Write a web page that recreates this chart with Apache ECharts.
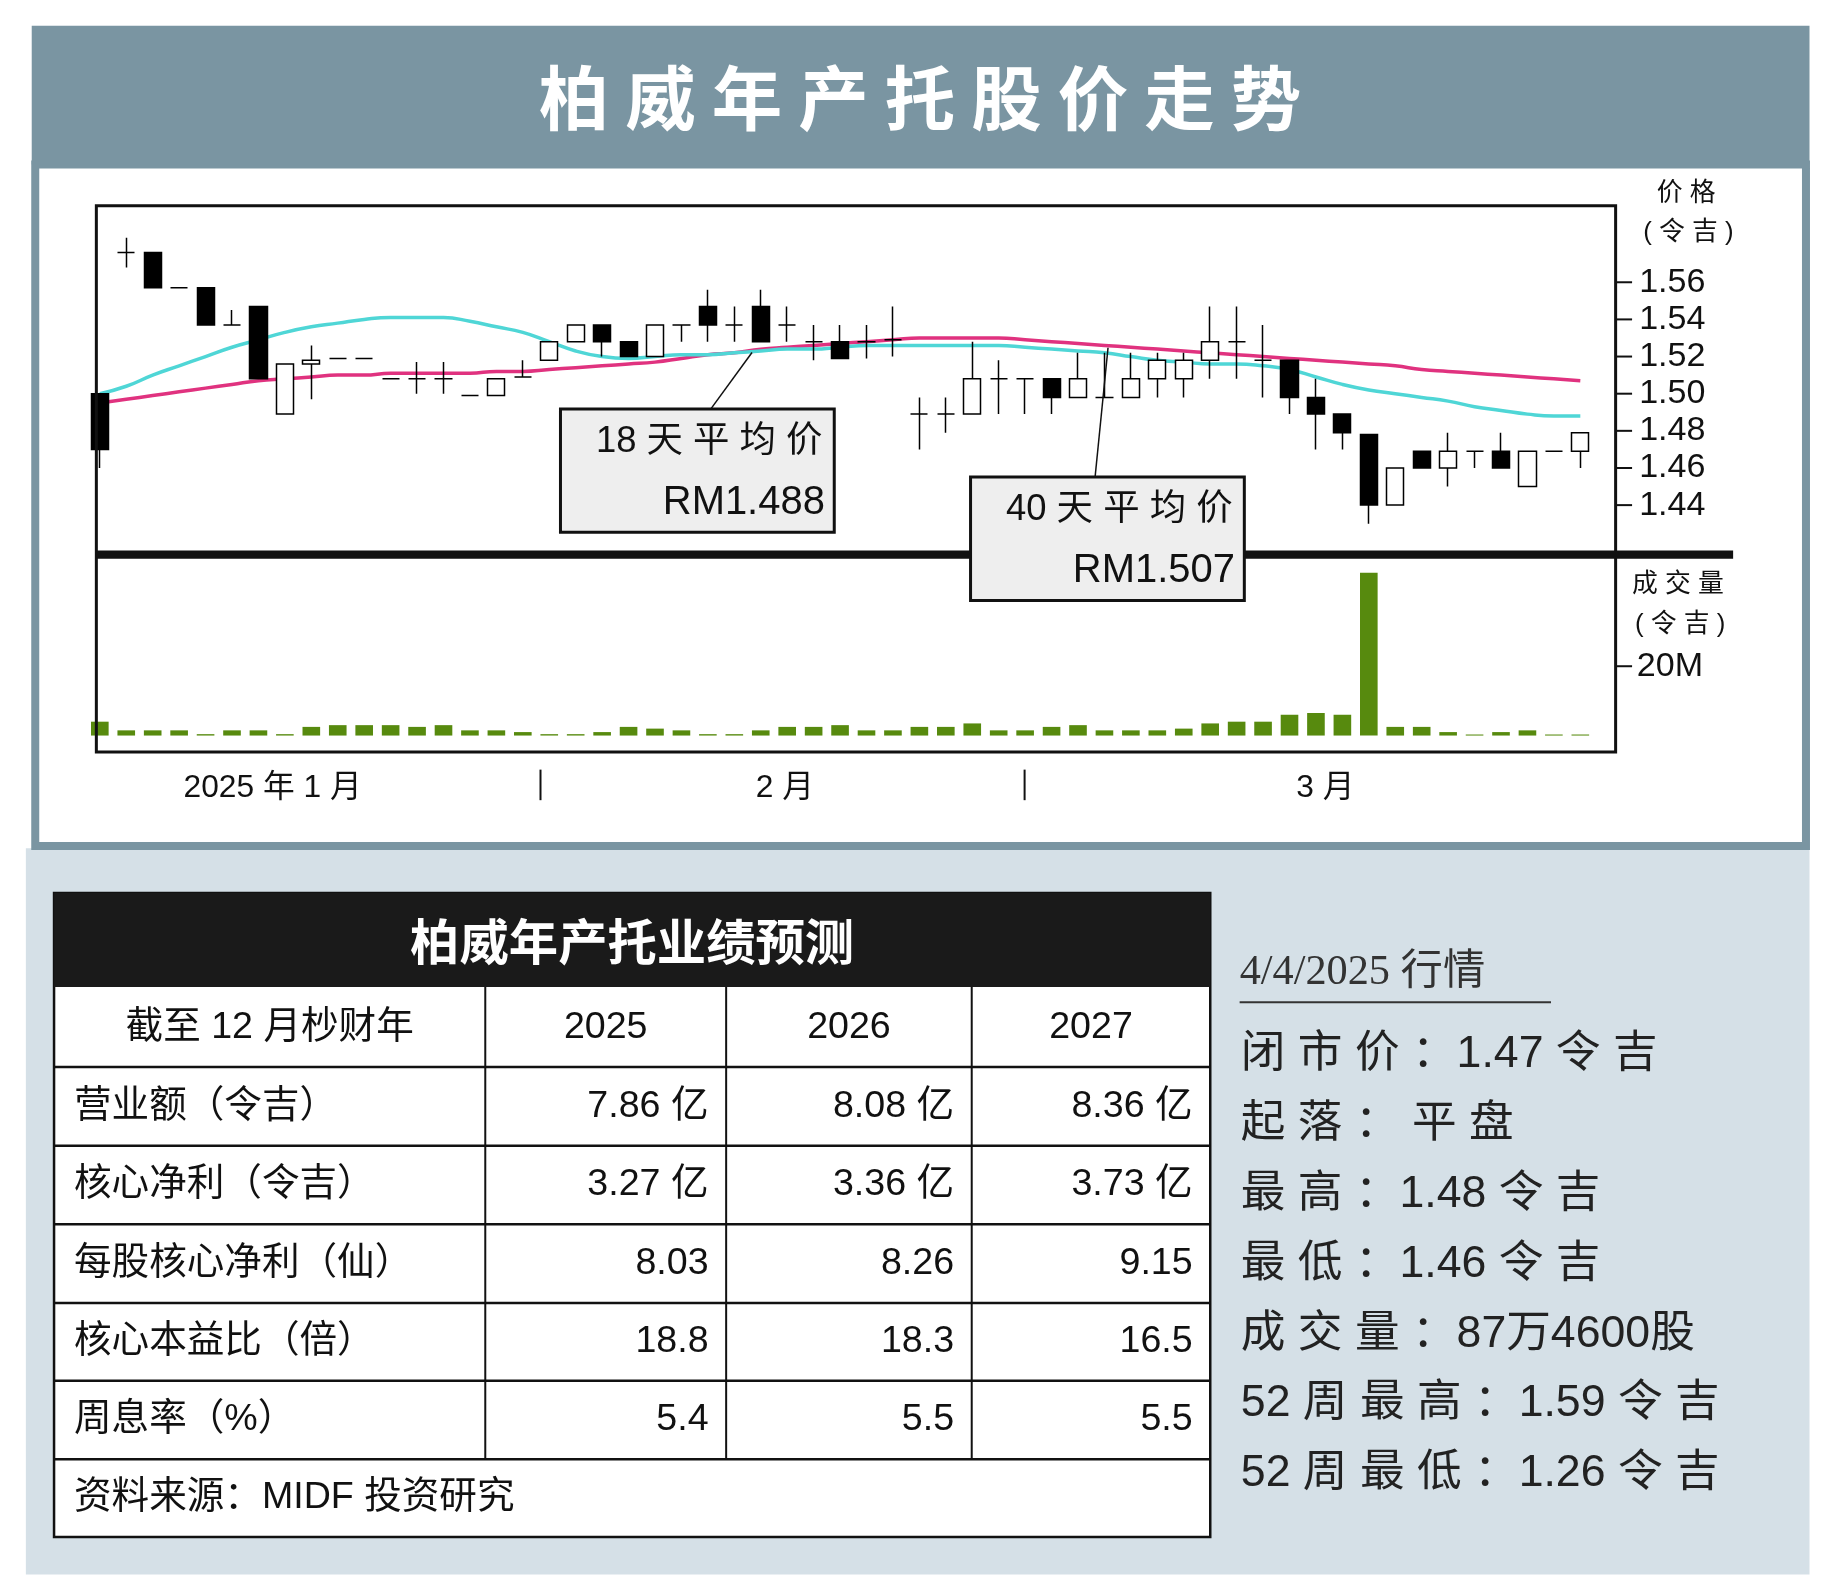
<!DOCTYPE html>
<html><head><meta charset="utf-8">
<script src="https://cdn.jsdelivr.net/npm/echarts@6/dist/echarts.min.js"></script>
<style>html,body{margin:0;padding:0;background:#fff}#c{width:1833px;height:1591px}</style>
</head><body><div id="c"></div>
<script>
// ---- data ----
const days = ['d1','d2','d3','d4','d5','d6','d7','d8','d9','d10','d11','d12','d13','d14','d15','d16','d17','d18','d19','d20','d21','d22','d23','d24','d25','d26','d27','d28','d29','d30','d31','d32','d33','d34','d35','d36','d37','d38','d39','d40','d41','d42','d43','d44','d45','d46','d47','d48','d49','d50','d51','d52','d53','d54','d55','d56','d57'];
// [open, close, low, high]
const ohlc = [
[1.50,1.47,1.46,1.50],[1.576,1.576,1.568,1.584],[1.576,1.557,1.557,1.576],[1.557,1.557,1.557,1.557],[1.557,1.537,1.537,1.557],
[1.537,1.537,1.537,1.545],[1.547,1.508,1.508,1.547],[1.489,1.516,1.489,1.516],[1.516,1.518,1.497,1.526],[1.519,1.519,1.519,1.519],
[1.519,1.519,1.519,1.519],[1.508,1.508,1.508,1.508],[1.508,1.508,1.500,1.517],[1.508,1.508,1.500,1.517],[1.499,1.499,1.499,1.499],
[1.499,1.508,1.499,1.508],[1.509,1.509,1.509,1.518],[1.518,1.528,1.518,1.528],[1.528,1.537,1.528,1.537],[1.537,1.528,1.520,1.537],
[1.528,1.520,1.520,1.528],[1.520,1.537,1.520,1.537],[1.537,1.537,1.528,1.537],[1.547,1.537,1.528,1.556],[1.537,1.537,1.528,1.547],
[1.547,1.528,1.528,1.556],[1.537,1.537,1.528,1.547],[1.528,1.528,1.518,1.537],[1.528,1.519,1.519,1.537],[1.528,1.528,1.519,1.537],
[1.529,1.529,1.520,1.547],[1.489,1.489,1.470,1.498],[1.489,1.489,1.479,1.498],[1.489,1.508,1.489,1.528],[1.508,1.508,1.489,1.518],
[1.508,1.508,1.489,1.508],[1.508,1.498,1.489,1.508],[1.498,1.508,1.498,1.522],[1.498,1.498,1.498,1.522],[1.498,1.508,1.498,1.522],
[1.508,1.518,1.498,1.522],[1.508,1.518,1.498,1.522],[1.518,1.528,1.508,1.547],[1.528,1.528,1.508,1.547],[1.518,1.518,1.498,1.537],
[1.518,1.498,1.489,1.518],[1.498,1.489,1.470,1.508],[1.489,1.479,1.470,1.489],[1.478,1.440,1.430,1.478],[1.440,1.460,1.440,1.460],
[1.469,1.460,1.460,1.469],[1.460,1.469,1.450,1.479],[1.469,1.469,1.460,1.469],[1.469,1.460,1.460,1.479],[1.450,1.469,1.450,1.469],
[1.469,1.469,1.469,1.469],[1.469,1.479,1.460,1.479]];
const volumeM = [4,1.5,1.5,1.5,0.4,1.5,1.5,0.4,2.5,3, 3,3,2.5,3,1.5,1.5,1,0.4,0.4,1, 2.5,2,1.5,0.4,0.4,1.5,2.5,2.5,3,1.5,
 1.5,2.5,2.5,3.5,1.5,1.5,2.5,3,1.5,1.5, 1.5,2,3.5,4,4,6,6.5,6,47,2.5, 2.5,1,0.3,1,1.5,0.3,0.3];
const ma18 = [1.500,1.504,1.510,1.515,1.520,1.525,1.529,1.533,1.536,1.538,1.540,1.541,1.541,1.541,1.539,1.536,1.533,1.528,1.523,1.520,
 1.519,1.520,1.521,1.521,1.522,1.523,1.524,1.524,1.525,1.526,1.526,1.526,1.526,1.526,1.526,1.525,1.524,1.523,1.522,1.520,
 1.518,1.517,1.516,1.516,1.515,1.513,1.509,1.505,1.502,1.500,1.498,1.496,1.493,1.491,1.489,1.488,1.488];
const ma40 = [1.495,1.497,1.499,1.501,1.503,1.505,1.507,1.508,1.509,1.510,1.510,1.511,1.511,1.511,1.511,1.512,1.512,1.513,1.514,1.515,
 1.516,1.517,1.519,1.521,1.522,1.524,1.525,1.526,1.527,1.528,1.529,1.530,1.530,1.530,1.530,1.529,1.528,1.527,1.526,1.525,
 1.524,1.523,1.522,1.521,1.520,1.519,1.518,1.517,1.516,1.515,1.513,1.512,1.511,1.510,1.509,1.508,1.507];
const priceTicks = [1.44,1.46,1.48,1.50,1.52,1.54,1.56];
const monthLabels = ['2025 年 1 月','2 月','3 月'];
const title = '柏威年产托股价走势';
const tableTitle = '柏威年产托业绩预测';
const tableHeader = ['截至 12 月杪财年','2025','2026','2027'];
const tableRows = [
 ['营业额（令吉）','7.86 亿','8.08 亿','8.36 亿'],
 ['核心净利（令吉）','3.27 亿','3.36 亿','3.73 亿'],
 ['每股核心净利（仙）','8.03','8.26','9.15'],
 ['核心本益比（倍）','18.8','18.3','16.5'],
 ['周息率（%）','5.4','5.5','5.5']];
const tableSource = '资料来源：MIDF 投资研究';
const quoteDate = '4/4/2025 行情';
const quoteLines = ['闭 市 价 ：1.47 令 吉','起 落 ： 平 盘','最 高 ：1.48 令 吉','最 低 ：1.46 令 吉','成 交 量 ：87万4600股','52 周 最 高 ：1.59 令 吉','52 周 最 低 ：1.26 令 吉'];
const ann1 = ['18 天 平 均 价','RM1.488'];
const ann2 = ['40 天 平 均 价','RM1.507'];

// ---- layout ----
const K = 1.175;
const S = v => v*K;
const F = 'Liberation Sans, "Noto Sans CJK SC", sans-serif';
const slate = '#7a95a2';
const g = [];
g.push({type:'rect',shape:{x:S(22),y:S(722),width:S(1518),height:S(618)},style:{fill:'#d5e0e7'},z:-10});
g.push({type:'rect',shape:{x:S(27),y:S(22),width:S(1513),height:S(118)},style:{fill:slate},z:-5});
g.push({type:'rect',shape:{x:S(30),y:S(140),width:S(1507),height:S(580)},style:{fill:'#fff',stroke:slate,lineWidth:8},z:-5});
g.push({type:'text',style:{text:title.split('').join(' '),x:S(783),y:S(84),textAlign:'center',textVerticalAlign:'middle',font:'bold '+S(60)+'px "Noto Sans CJK SC"',fill:'#fff'}});
// frame
g.push({type:'rect',shape:{x:S(82),y:S(175),width:S(1293),height:S(465)},style:{fill:'none',stroke:'#111',lineWidth:3},z:5});
g.push({type:'line',shape:{x1:S(82),y1:S(472),x2:S(1475),y2:S(472)},style:{stroke:'#111',lineWidth:S(7)},z:5});
// month labels
[[232,0],[668,1],[1128,2]].forEach(([x,i])=>g.push({type:'text',style:{text:monthLabels[i],x:S(x),y:S(671),textAlign:'center',textVerticalAlign:'middle',font:S(27)+'px '+F,fill:'#111'}}));
[460,872].forEach(x=>g.push({type:'line',shape:{x1:S(x),y1:S(655),x2:S(x),y2:S(681)},style:{stroke:'#111',lineWidth:2}}));
// right labels
[['价 格',1435,165],['( 令 吉 )',1437,198],['成 交 量',1428,498],['( 令 吉 )',1430,532]].forEach(([t,x,y])=>g.push({type:'text',style:{text:t,x:S(x),y:S(y),textAlign:'center',textVerticalAlign:'middle',font:S(22)+'px '+F,fill:'#111'}}));
// annotations
function ann(lines,x,y,lx1,ly1,lx2,ly2){
 g.push({type:'line',shape:{x1:S(lx1),y1:S(ly1),x2:S(lx2),y2:S(ly2)},style:{stroke:'#111',lineWidth:1.5},z:20});
 g.push({type:'rect',shape:{x:S(x),y:S(y),width:S(233),height:S(105)},style:{fill:'#eeeeee',stroke:'#111',lineWidth:3},z:20});
 g.push({type:'text',style:{text:lines[0],x:S(x+223),y:S(y+28),textAlign:'right',textVerticalAlign:'middle',font:S(31)+'px '+F,fill:'#111'},z:21});
 g.push({type:'text',style:{text:lines[1],x:S(x+225),y:S(y+80),textAlign:'right',textVerticalAlign:'middle',font:S(34)+'px '+F,fill:'#111'},z:21});
}
ann(ann1,477,348,605,348,640,300);
ann(ann2,826,406,932,406,943,296);
// table
const tx=[46,413,618,827,1030];
g.push({type:'rect',shape:{x:S(46),y:S(760),width:S(984),height:S(548)},style:{fill:'#fff',stroke:'#111',lineWidth:2.5}});
g.push({type:'rect',shape:{x:S(46),y:S(760),width:S(984),height:S(80)},style:{fill:'#1a1a1a'}});
g.push({type:'text',style:{text:tableTitle,x:S(538),y:S(801),textAlign:'center',textVerticalAlign:'middle',font:'bold '+S(42)+'px "Noto Sans CJK SC"',fill:'#fff'}});
const ry=[840,908,975,1042,1109,1175,1242,1308];
for(let i=1;i<ry.length-1;i++) g.push({type:'line',shape:{x1:S(46),y1:S(ry[i]),x2:S(1030),y2:S(ry[i])},style:{stroke:'#111',lineWidth:2.5}});
for(let j=1;j<4;j++) g.push({type:'line',shape:{x1:S(tx[j]),y1:S(840),x2:S(tx[j]),y2:S(1242)},style:{stroke:'#111',lineWidth:2}});
const tf=S(32)+'px '+F;
tableHeader.forEach((t,j)=>g.push({type:'text',style:{text:t,x:S((tx[j]+tx[j+1])/2),y:S(875),textAlign:'center',textVerticalAlign:'middle',font:tf,fill:'#111'}}));
tableRows.forEach((r,i)=>{const y=S((ry[i+1]+ry[i+2])/2);
 r.forEach((t,j)=>g.push({type:'text',style:{text:t,x:j==0?S(63):S(tx[j+1]-15),y,textAlign:j==0?'left':'right',textVerticalAlign:'middle',font:tf,fill:'#111'}}));});
g.push({type:'text',style:{text:tableSource,x:S(63),y:S(1275),textAlign:'left',textVerticalAlign:'middle',font:tf,fill:'#111'}});
// quote
g.push({type:'text',style:{text:quoteDate,x:S(1055),y:S(828),textAlign:'left',textVerticalAlign:'middle',font:S(36)+'px "Liberation Serif", "Noto Sans CJK SC", serif',fill:'#333'}});
g.push({type:'line',shape:{x1:S(1055),y1:S(853),x2:S(1320),y2:S(853)},style:{stroke:'#333',lineWidth:2}});
quoteLines.forEach((t,i)=>g.push({type:'text',style:{text:t,x:S(1056),y:S(898+59.4*i),textAlign:'left',textVerticalAlign:'middle',font:S(38)+'px '+F,fill:'#222'}}));

const gridLeft=S(73.7), gridW=S(57*22.5);
const chart = echarts.init(document.getElementById('c'));
chart.setOption({
 animation:false,
 backgroundColor:'#fff',
 graphic:g,
 grid:[{left:gridLeft,top:S(177),width:gridW,height:S(461.5-177)},{left:gridLeft,top:S(478.5),width:gridW,height:S(626-478.5)}],
 xAxis:[{type:'category',data:days,gridIndex:0,boundaryGap:true,show:false},{type:'category',data:days,gridIndex:1,boundaryGap:true,show:false}],
 yAxis:[{type:'value',gridIndex:0,position:'right',offset:S(1375)-(gridLeft+gridW),min:1.42,max:1.60,interval:0.02,splitLine:{show:false},axisLine:{show:false},axisTick:{show:false},
   axisLabel:{margin:0,formatter:v=>{const r=Math.round(v*100)/100;return priceTicks.some(p=>Math.abs(p-r)<1e-6)?'{t|}{v|'+r.toFixed(2)+'}':'';},
     rich:{t:{width:S(14),height:2,backgroundColor:'#111'},v:{fontSize:S(29),fontFamily:F,color:'#111',padding:[0,0,0,S(6)]}}}},
  {type:'value',gridIndex:1,position:'right',offset:S(1375)-(gridLeft+gridW),min:0,max:50,interval:20,splitLine:{show:false},axisLine:{show:false},axisTick:{show:false},
   axisLabel:{margin:0,formatter:v=>v===20?'{t|}{v|20M}':'',rich:{t:{width:S(14),height:2,backgroundColor:'#111'},v:{fontSize:S(29),fontFamily:F,color:'#111',padding:[0,0,0,S(4)]}}}}],
 series:[
  {type:'line',data:ma40,xAxisIndex:0,yAxisIndex:0,symbol:'none',smooth:true,lineStyle:{color:'#e0327f',width:3.5},z:2},
  {type:'line',data:ma18,xAxisIndex:0,yAxisIndex:0,symbol:'none',smooth:true,lineStyle:{color:'#4fd6d6',width:3.5},z:2},
  {type:'candlestick',data:ohlc,xAxisIndex:0,yAxisIndex:0,barWidth:S(15),z:3,
   itemStyle:{color:'#fff',color0:'#000',borderColor:'#000',borderColor0:'#000',borderWidth:1.5}},
  {type:'bar',data:volumeM,xAxisIndex:1,yAxisIndex:1,barWidth:S(15),itemStyle:{color:'#578a0e'}}
 ]
});
</script></body></html>
